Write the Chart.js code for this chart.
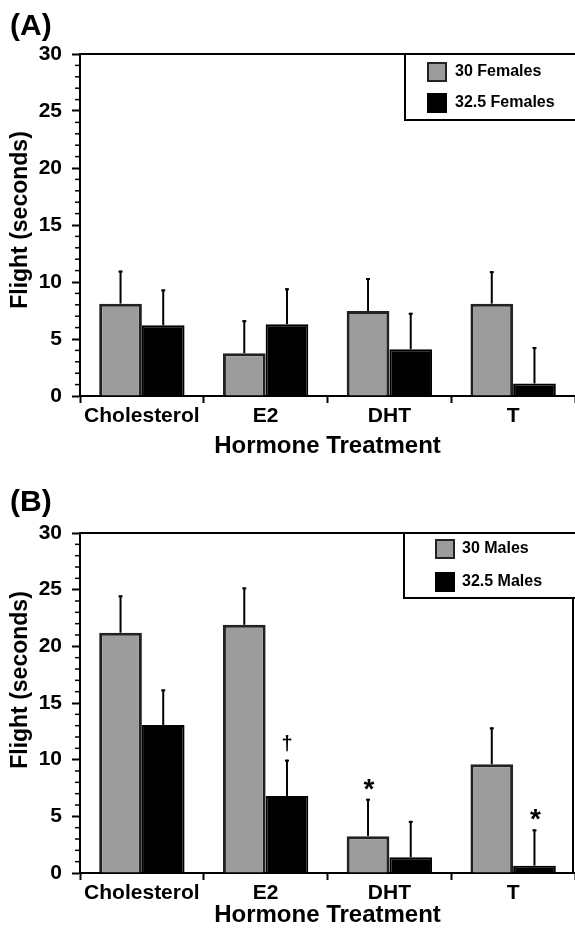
<!DOCTYPE html>
<html><head><meta charset="utf-8">
<script src="https://cdn.jsdelivr.net/npm/chart.js@4.4.1/dist/chart.umd.min.js"></script>
<style>
html,body{margin:0;padding:0;background:#fff;}
#ca{position:absolute;left:0;top:0;}
#cb{position:absolute;left:0;top:466px;}
</style></head><body>
<canvas id="ca" width="575" height="466"></canvas>
<canvas id="cb" width="575" height="467"></canvas>
<script>
// ---- data ----
const categories = ['Cholesterol', 'E2', 'DHT', 'T'];
const yTickValues = [0, 5, 10, 15, 20, 25, 30];
const xTitle = 'Hormone Treatment';
const yTitle = 'Flight (seconds)';

const femaleLabels = ['30 Females', '32.5 Females'];
const female30 = [8.1, 3.75, 7.45, 8.1];
const female30Err = [2.9, 2.9, 2.9, 2.85];
const female325 = [6.2, 6.3, 4.1, 1.1];
const female325Err = [3.15, 3.15, 3.2, 3.2];

const maleLabels = ['30 Males', '32.5 Males'];
const male30 = [21.2, 21.9, 3.25, 9.6];
const male30Err = [3.3, 3.3, 3.3, 3.25];
const male325 = [13.05, 6.8, 1.4, 0.65];
const male325Err = [3.15, 3.2, 3.2, 3.2];
const male30Marks = ['', '', '*', ''];
const male325Marks = ['', '\u2020', '', '*'];

const FONT = '"Liberation Sans", Arial, Helvetica, sans-serif';
const GRAY = '#9c9c9c';
const GRAY_BORDER = '#222222';

const extras = {
  id: 'extras',
  afterDatasetsDraw(chart, args, o) {
    const ctx = chart.ctx;
    const {left, right, top, bottom} = chart.chartArea;
    const y = chart.scales.y;
    ctx.save();
    ctx.strokeStyle = '#000';
    // minor ticks
    ctx.lineWidth = 1.5;
    for (let v = y.min; v <= y.max; v++) {
      if (v % 5 === 0) continue;
      const py = y.getPixelForValue(v);
      ctx.beginPath(); ctx.moveTo(left - 5, py); ctx.lineTo(left, py); ctx.stroke();
    }
    // frame
    ctx.lineWidth = 2;
    ctx.beginPath(); ctx.moveTo(left, top); ctx.lineTo(right, top); ctx.stroke();
    if (o.rightBorder) {
      ctx.beginPath(); ctx.moveTo(right - 2, top); ctx.lineTo(right - 2, bottom); ctx.stroke();
    }
    // error bars + marks
    chart.data.datasets.forEach((ds, i) => {
      const meta = chart.getDatasetMeta(i);
      meta.data.forEach((bar, j) => {
        const yt = y.getPixelForValue(ds.data[j] + ds.errors[j]);
        ctx.strokeStyle = '#000';
        ctx.lineWidth = 2;
        ctx.beginPath(); ctx.moveTo(bar.x, bar.y); ctx.lineTo(bar.x, yt); ctx.stroke();
        ctx.beginPath(); ctx.moveTo(bar.x - 2, yt + 1); ctx.lineTo(bar.x + 2, yt + 1); ctx.stroke();
        const m = ds.marks ? ds.marks[j] : '';
        if (m) {
          ctx.fillStyle = '#000';
          ctx.textAlign = 'center';
          if (m === '*') {
            ctx.font = 'bold 28px ' + FONT;
            ctx.textBaseline = 'alphabetic';
            ctx.fillText(m, bar.x + 1, yt - 1);
          } else {
            ctx.font = 'bold 20px ' + FONT;
            ctx.textBaseline = 'middle';
            ctx.fillText(m, bar.x, yt - 15);
          }
        }
      });
    });
    // legend box
    const lg = o.legend;
    ctx.fillStyle = '#fff';
    ctx.fillRect(lg.left, top, chart.width - lg.left + 10, lg.height);
    ctx.lineWidth = 2;
    ctx.strokeStyle = '#000';
    ctx.strokeRect(lg.left, top, chart.width - lg.left + 10, lg.height);
    chart.data.datasets.forEach((ds, i) => {
      const sy = top + lg.rows[i];
      ctx.fillStyle = ds.backgroundColor;
      ctx.fillRect(lg.left + lg.sq, sy, 20, 20);
      ctx.lineWidth = 2;
      ctx.strokeStyle = ds.borderColor;
      ctx.strokeRect(lg.left + lg.sq + 1, sy + 1, 18, 18);
      ctx.fillStyle = '#000';
      ctx.font = 'bold 16px ' + FONT;
      ctx.textAlign = 'left';
      ctx.textBaseline = 'middle';
      ctx.fillText(ds.label, lg.left + lg.tx, sy + 10);
    });
    // y title
    ctx.save();
    ctx.translate(21, o.yTitleY);
    ctx.rotate(-Math.PI / 2);
    ctx.fillStyle = '#000';
    ctx.font = 'bold 23px ' + FONT;
    ctx.textAlign = 'center';
    ctx.textBaseline = 'middle';
    ctx.fillText(yTitle, 0, 0);
    ctx.restore();
    ctx.restore();
  }
};

function makeChart(id, panel, labels, d1, e1, d2, e2, m1, m2, cfg) {
  return new Chart(document.getElementById(id), {
    type: 'bar',
    data: {
      labels: categories,
      datasets: [
        {label: labels[0], data: d1, errors: e1, marks: m1, backgroundColor: GRAY, borderColor: GRAY_BORDER, borderWidth: 3,
         categoryPercentage: 0.69, barPercentage: 1},
        {label: labels[1], data: d2, errors: e2, marks: m2, backgroundColor: '#000', borderColor: '#000', borderWidth: 2,
         categoryPercentage: 0.69, barPercentage: 1}
      ]
    },
    options: {
      responsive: false,
      devicePixelRatio: 1,
      animation: false,
      layout: {padding: {left: 10, right: 0, top: 0, bottom: 0}},
      plugins: {
        legend: {display: false},
        tooltip: {enabled: false},
        title: {display: true, text: panel, align: 'start', color: '#000',
          font: {family: FONT, size: 30, weight: 'bold', lineHeight: 1},
          padding: cfg.titlePad},
        extras: cfg.extras
      },
      scales: {
        x: {
          grid: {offset: true, drawOnChartArea: false, tickLength: 7, tickWidth: 2, tickColor: '#000'},
          border: {color: '#000', width: 2},
          ticks: {color: '#000', padding: 1, font: {family: FONT, size: 21, weight: 'bold'}},
          title: {display: true, text: xTitle, color: '#000',
            font: {family: FONT, size: 24, weight: 'bold'}, padding: {top: 0, bottom: cfg.xTitlePad}},
          afterFit: s => { s.height = cfg.xHeight; }
        },
        y: {
          min: 0, max: 30,
          afterBuildTicks: s => { s.ticks = yTickValues.map(v => ({value: v})); },
          grid: {drawOnChartArea: false, tickLength: 8, tickWidth: 2, tickColor: '#000'},
          border: {color: '#000', width: 2},
          ticks: {color: '#000', padding: 10, font: {family: FONT, size: 21, weight: 'bold'}},
          afterFit: s => { s.width = 70; }
        }
      }
    },
    plugins: [extras]
  });
}

makeChart('ca', '(A)', femaleLabels, female30, female30Err, female325, female325Err, null, null, {
  titlePad: {top: 11.5, bottom: 12.5},
  xHeight: 70, xTitlePad: 5,
  extras: {rightBorder: false, yTitleY: 220,
    legend: {left: 405, height: 66, sq: 22, tx: 50, rows: [8, 39]}}
});
makeChart('cb', '(B)', maleLabels, male30, male30Err, male325, male325Err, male30Marks, male325Marks, {
  titlePad: {top: 21.7, bottom: 15.3},
  xHeight: 60, xTitlePad: 3,
  extras: {rightBorder: true, yTitleY: 214,
    legend: {left: 404, height: 65, sq: 31, tx: 58, rows: [6, 39]}}
});
</script>
</body></html>
